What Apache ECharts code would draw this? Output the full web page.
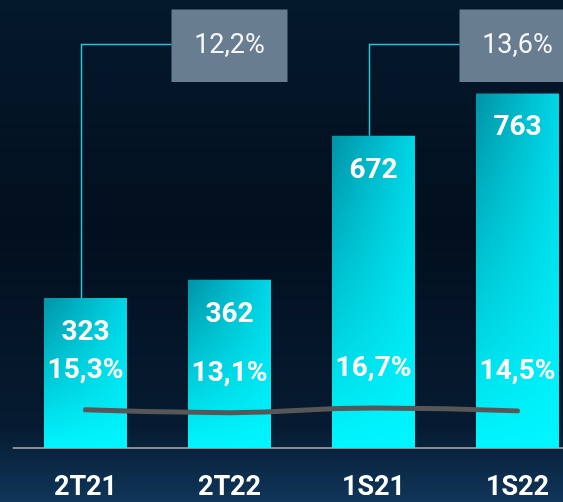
<!DOCTYPE html>
<html>
<head>
<meta charset="utf-8">
<script src="https://cdn.jsdelivr.net/npm/echarts@6/dist/echarts.min.js"></script>
<style>
  html, body { margin: 0; padding: 0; background: #020f1e; overflow: hidden; }
  /* el gráfico es algo más ancho que la ventana: la última barra queda recortada */
  #chart { width: 590px; height: 502px; }
</style>
</head>
<body>
<div id="chart"></div>
<script>
var periods = ["2T21", "2T22", "1S21", "1S22"];
var ebitda = [323, 362, 672, 763];
var margins = [15.3, 13.1, 16.7, 14.5];
var growthLabels = ["12,2%", "13,6%"];
var growthPairs = [[0, 1], [2, 3]];

var chartDom = document.getElementById("chart");
var myChart = echarts.init(chartDom);

function fmtPct(v) {
  return v.toFixed(1).replace(".", ",") + "%";
}

var option = {
  backgroundColor: new echarts.graphic.LinearGradient(0, 0, 0, 1, [
    { offset: 0, color: "#04192c" },
    { offset: 0.45, color: "#020f1e" },
    { offset: 0.85, color: "#061b31" },
    { offset: 1, color: "#10365a" },
  ]),
  textStyle: { fontFamily: "Roboto" },
  grid: { left: 13.5, top: 0, width: 576, height: 451 },
  xAxis: {
    type: "category",
    data: periods,
    axisTick: { show: false },
    axisLine: { lineStyle: { color: "#8c8c8c", width: 2 } },
    axisLabel: {
      color: "#ffffff",
      fontWeight: "bold",
      fontSize: 27,
      margin: 27,
      fontFamily: "Roboto",
    },
  },
  yAxis: [
    { type: "value", min: 0, max: 964, show: false, splitLine: { show: false } },
    { type: "value", min: -13.6, max: 325.5, show: false, splitLine: { show: false } },
  ],
  series: [
    {
      name: "EBITDA",
      type: "bar",
      data: ebitda,
      barWidth: 83,
      itemStyle: {
        color: new echarts.graphic.LinearGradient(0, 0, 1, 0, [
          { offset: 0, color: "#0093a6" },
          { offset: 1, color: "#00d6e6" },
        ]),
      },
    },
    {
      // capa con degradado vertical para aclarar la parte baja de las barras
      name: "EBITDA ",
      type: "bar",
      data: ebitda,
      barWidth: 83,
      barGap: "-100%",
      itemStyle: {
        color: new echarts.graphic.LinearGradient(0, 0, 0, 1, [
          { offset: 0, color: "rgba(0,246,255,0)" },
          { offset: 1, color: "rgba(0,246,255,1)" },
        ]),
      },
      label: {
        show: true,
        position: "insideTop",
        distance: 21,
        color: "#ffffff",
        fontWeight: "bold",
        fontSize: 28,
        fontFamily: "Roboto",
      },
    },
    {
      name: "Margen",
      type: "line",
      yAxisIndex: 1,
      data: margins,
      smooth: true,
      symbol: "circle",
      symbolSize: 1,
      itemStyle: { color: "rgba(0,0,0,0)" },
      lineStyle: { color: "#575757", width: 5, cap: "round" },
      label: {
        show: true,
        position: "top",
        distance: 24,
        color: "#ffffff",
        fontWeight: "bold",
        fontSize: 28,
        fontFamily: "Roboto",
        formatter: function (p) {
          return fmtPct(p.value);
        },
      },
      z: 3,
    },
  ],
};
myChart.setOption(option);

// recuadros de crecimiento con su línea de conexión
var elements = [];
growthPairs.forEach(function (pair, i) {
  var from = myChart.convertToPixel({ seriesIndex: 0 }, [pair[0], ebitda[pair[0]]]);
  var to = myChart.convertToPixel({ seriesIndex: 0 }, [pair[1], ebitda[pair[1]]]);
  var boxW = 116, boxH = 72.5, boxTop = 9.5;
  var boxLeft = to[0] - 58;
  var lineY = 44.5;
  var lineX = from[0] - 4;
  elements.push({
    type: "polyline",
    shape: { points: [[lineX, from[1]], [lineX, lineY], [boxLeft, lineY]] },
    style: { stroke: "#26c4dc", lineWidth: 1.5, fill: null },
  });
  elements.push({
    type: "rect",
    shape: { x: boxLeft, y: boxTop, width: boxW, height: boxH },
    style: { fill: "#697d91" },
  });
  elements.push({
    type: "text",
    style: {
      text: growthLabels[i],
      x: boxLeft + boxW / 2,
      y: boxTop + boxH / 2,
      textAlign: "center",
      textVerticalAlign: "middle",
      fill: "#f4f6f8",
      fontSize: 27,
      fontWeight: "normal",
      fontFamily: "Roboto",
    },
  });
});
myChart.setOption({ graphic: elements });
</script>
</body>
</html>
